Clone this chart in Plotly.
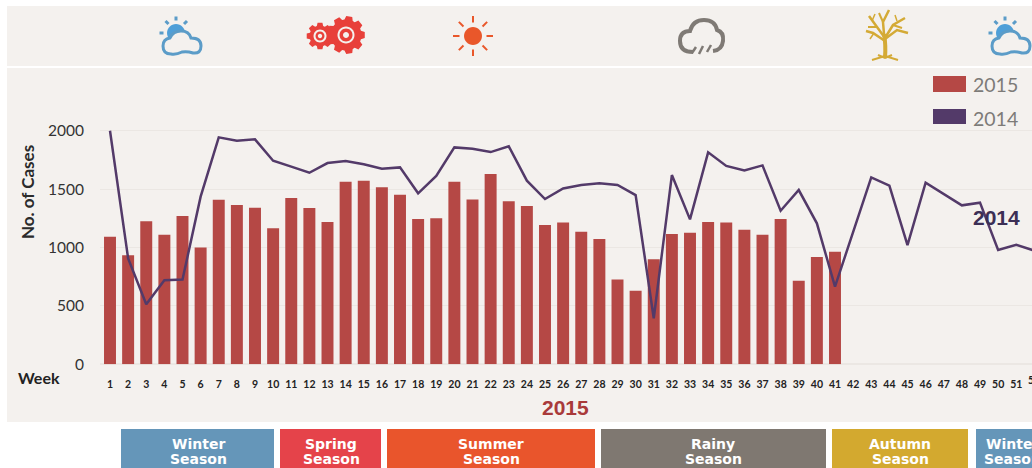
import math
import plotly.graph_objects as go

W, H = 1032, 468

weeks = list(range(1, 53))
weeks_2015 = list(range(1, 42))
cases_2015 = [1093, 933, 1224, 1110, 1270, 1001, 1409, 1364, 1341, 1164,
              1424, 1338, 1218, 1563, 1572, 1515, 1452, 1244, 1250, 1563,
              1412, 1629, 1395, 1355, 1193, 1215, 1135, 1073, 727, 630,
              899, 1116, 1127, 1218, 1215, 1153, 1110, 1244, 716, 919, 964]
cases_2014 = [2000, 907, 514, 719, 725, 1435, 1943, 1914, 1926, 1743,
              1692, 1640, 1723, 1740, 1712, 1675, 1686, 1464, 1612, 1857,
              1846, 1817, 1866, 1572, 1415, 1506, 1535, 1549, 1535, 1449,
              394, 1620, 1241, 1815, 1698, 1660, 1703, 1315, 1492, 1207,
              665, 1135, 1600, 1529, 1021, 1555, 1455, 1361, 1384, 979,
              1024, 973]
y_ticks = [0, 500, 1000, 1500, 2000]
season_names = ["Winter", "Spring", "Summer", "Rainy", "Autumn", "Winter"]
season_word = "Season"
season_colors = ["#6596b9", "#e5434a", "#e9552c", "#7f7871", "#d3a92f", "#6596b9"]

BG = "#f4f1ee"
BAR = "#b54845"
LINE = "#533a69"


def px(x):
    return x / W


def py(y):
    return 1 - y / H


def path(cmds):
    """cmds: list of (letter, x1, y1, x2, y2, ...) in pixel coordinates."""
    out = []
    for c in cmds:
        vals = c[1:]
        pts = []
        for i in range(0, len(vals), 2):
            pts.append(f"{px(vals[i]):.5f},{py(vals[i + 1]):.5f}")
        out.append(c[0] + " ".join(pts))
    return " ".join(out)


def rect(x0, y0, x1, y1, color):
    return dict(type="rect", xref="paper", yref="paper", x0=px(x0), x1=px(x1),
                y0=py(y1), y1=py(y0), fillcolor=color, line_width=0, layer="below")


def stroke(cmds, color, width, fill=None):
    d = dict(type="path", xref="paper", yref="paper", path=path(cmds),
             line=dict(color=color, width=width), layer="above")
    if fill:
        d["fillcolor"] = fill
    return d


def filled(cmds, color):
    return dict(type="path", xref="paper", yref="paper", path=path(cmds),
                fillcolor=color, line_width=0, layer="above")


def circle_cmds(cx, cy, r):
    k = 0.5523 * r
    return [("M", cx + r, cy),
            ("C", cx + r, cy + k, cx + k, cy + r, cx, cy + r),
            ("C", cx - k, cy + r, cx - r, cy + k, cx - r, cy),
            ("C", cx - r, cy - k, cx - k, cy - r, cx, cy - r),
            ("C", cx + k, cy - r, cx + r, cy - k, cx + r, cy),
            ("Z",)]


def gear_cmds(cx, cy, r_out, r_in, teeth):
    cmds = []
    step = 2 * math.pi / teeth
    for i in range(teeth):
        a = i * step
        for da, r in [(-0.34, r_in), (-0.2, r_out), (0.2, r_out), (0.34, r_in)]:
            t = a + da * step * 1.15
            cmds.append(("L" if cmds else "M", cx + r * math.cos(t), cy + r * math.sin(t)))
    cmds.append(("Z",))
    return cmds


def cloud_sun(ox):
    blue = "#5b9cc8"
    s = [filled(circle_cmds(176 + ox, 33, 9), "#4f9fd8")]
    for seg in [(176, 16.5, 176, 20.5), (165.5, 21, 168.5, 24), (187, 21, 184, 24), (159.5, 33, 163.5, 33)]:
        s.append(stroke([("M", seg[0] + ox, seg[1]), ("L", seg[2] + ox, seg[3])], blue, 3))
    s.append(stroke([("M", 171 + ox, 54), ("Q", 163 + ox, 54, 163 + ox, 46),
                     ("Q", 163 + ox, 39, 170 + ox, 38), ("Q", 173 + ox, 31, 181 + ox, 31),
                     ("Q", 189 + ox, 31, 191 + ox, 38), ("Q", 201 + ox, 38, 201 + ox, 46),
                     ("Q", 201 + ox, 54, 193 + ox, 53), ("Q", 187 + ox, 51, 182 + ox, 52),
                     ("Q", 176 + ox, 55, 171 + ox, 54), ("Z",)], blue, 3, fill=BG))
    return s


icons = []
icons += cloud_sun(0)
icons += cloud_sun(829)

RED = "#e8403a"
icons.append(filled(gear_cmds(320, 36, 13.5, 10.5, 8), RED))
icons.append(filled(gear_cmds(346, 35, 19, 15.5, 9), RED))
icons.append(filled(circle_cmds(320, 36, 6.5), BG))
icons.append(filled(circle_cmds(320, 36, 4.5), RED))
icons.append(filled(circle_cmds(320, 36, 2.2), BG))
icons.append(filled(circle_cmds(346, 35, 8.5), BG))
icons.append(filled(circle_cmds(346, 35, 6.5), RED))
icons.append(filled(circle_cmds(346, 35, 3), BG))

SUN = "#e9572a"
icons.append(filled(circle_cmds(473, 36, 9), SUN))
for i in range(8):
    a = i * math.pi / 4
    icons.append(stroke([("M", 473 + 13.5 * math.cos(a), 36 + 13.5 * math.sin(a)),
                         ("L", 473 + 20 * math.cos(a), 36 + 20 * math.sin(a))], SUN, 2))

GREY = "#7f7a75"
icons.append(stroke([("M", 693, 52), ("Q", 680, 52, 680, 41), ("Q", 680, 31, 690, 31),
                     ("Q", 693, 20, 704, 20), ("Q", 715, 20, 717, 30),
                     ("Q", 724, 32, 723, 41), ("Q", 722, 50, 713, 51)], GREY, 4))
for seg in [(696, 47, 692, 53), (703, 46, 699, 54), (711, 45, 707, 52)]:
    icons.append(stroke([("M", seg[0], seg[1]), ("L", seg[2], seg[3])], GREY, 2.5))

GOLD = "#d4aa35"
icons.append(stroke([("M", 885, 58), ("Q", 886, 45, 884, 34)], GOLD, 4))
for pts, w in [([(885, 38), (877, 27), (869, 16)], 2.5), ([(877, 27), (868, 27)], 2),
               ([(872, 21), (875, 14)], 1.5),
               ([(884, 34), (883, 22), (889, 10)], 2.5), ([(883, 22), (879, 13)], 2),
               ([(885, 38), (893, 25), (905, 18)], 2.5), ([(893, 25), (902, 28)], 2),
               ([(897, 21), (895, 15)], 1.5),
               ([(885, 41), (873, 33), (866, 31)], 2.5), ([(885, 39), (897, 30), (908, 33)], 2.5),
               ([(874, 33), (870, 39)], 1.5),
               ([(872, 60), (885, 56), (898, 60)], 2), ([(878, 55), (885, 58), (892, 55)], 2)]:
    cmds = [("M" if i == 0 else "L", p[0], p[1]) for i, p in enumerate(pts)]
    icons.append(stroke(cmds, GOLD, w))

panels = [rect(7, 6, W, 66, BG), rect(7, 68, W, 422, BG)]

legend_shapes = [rect(933, 76, 966, 92, BAR), rect(933, 109, 966, 124, LINE)]
for s in legend_shapes:
    s["layer"] = "above"

season_spans = [(121, 274), (280, 381), (387, 595), (601, 826), (832, 968), (976, 1048)]
season_shapes = [rect(a, 429, b, 469, c) for (a, b), c in zip(season_spans, season_colors)]


def note(text, x, y, size, color, family="Liberation Sans", xanchor="center", angle=0):
    return dict(text=text, xref="paper", yref="paper", x=px(x), y=py(y), showarrow=False,
                xanchor=xanchor, yanchor="middle", textangle=angle,
                font=dict(size=size, color=color, family=family))


annots = [
    note("<b>No. of Cases</b>", 27, 192, 17, "#2b2b2b", "Lato", angle=-90),
    note("<b>Week</b>", 39, 377, 16, "#222222", "Lato"),
    note("<b>2015</b>", 565, 407, 21, "#a93a3a"),
    note("<b>2014</b>", 996, 217, 21, "#3c2f55"),
    note("2015", 971, 84, 19.5, "#7d7b78", "Lato", xanchor="left"),
    note("2014", 971, 118, 19.5, "#7d7b78", "Lato", xanchor="left"),
    note("<b>52</b>", 1034, 380, 10.5, "#222222", "Lato"),
]
season_cx = [198, 331, 491, 713, 900, 1012]
for name, cx in zip(season_names, season_cx):
    annots.append(note(f"<b>{name}</b>", cx, 443.5, 14, "white", "DejaVu Sans"))
    annots.append(note(f"<b>{season_word}</b>", cx, 459, 14, "white", "DejaVu Sans"))

fig = go.Figure()
fig.add_trace(go.Bar(x=weeks_2015, y=cases_2015, name="2015", width=0.66,
                     marker=dict(color=BAR, line_width=0)))
fig.add_trace(go.Scatter(x=weeks, y=cases_2014, name="2014", mode="lines",
                         line=dict(color=LINE, width=2.5)))

Y0_PX, YTOP_PX = 364.3, 75
UNITS_PER_PX = 2000 / 233.6
fig.update_layout(
    width=W, height=H, autosize=False,
    margin=dict(l=0, r=0, t=0, b=0, pad=0),
    paper_bgcolor="white", plot_bgcolor="rgba(0,0,0,0)",
    showlegend=False, bargap=0.34,
    shapes=panels + season_shapes + legend_shapes + icons,
    annotations=annots,
    xaxis=dict(domain=[100 / W, 1], range=[1 - 10 / 18.125, 1 + (W - 110) / 18.125],
               automargin=False,
               tickmode="array", tickvals=weeks[:51], ticktext=[str(w) for w in weeks[:51]],
               tickangle=0, ticks="outside", ticklen=10, tickcolor="rgba(0,0,0,0)",
               tickfont=dict(size=10.5, family="Lato", color="#222222", weight=700),
               showgrid=False, zeroline=False, showline=False, fixedrange=True),
    yaxis=dict(domain=[1 - Y0_PX / H, 1 - YTOP_PX / H],
               range=[0, (Y0_PX - YTOP_PX) * UNITS_PER_PX], automargin=False,
               tickmode="array", tickvals=y_ticks, ticks="outside", ticklen=12,
               tickcolor="rgba(0,0,0,0)", tickfont=dict(size=15.5, family="Lato", color="#333333"),
               showgrid=True, gridcolor="#ebe7e3", gridwidth=1,
               zeroline=True, zerolinecolor="#ebe7e3", showline=False, fixedrange=True),
)

fig.write_html("out.html", config=dict(displayModeBar=False),
               post_script="document.body.style.margin='0';document.body.style.overflow='hidden';")
